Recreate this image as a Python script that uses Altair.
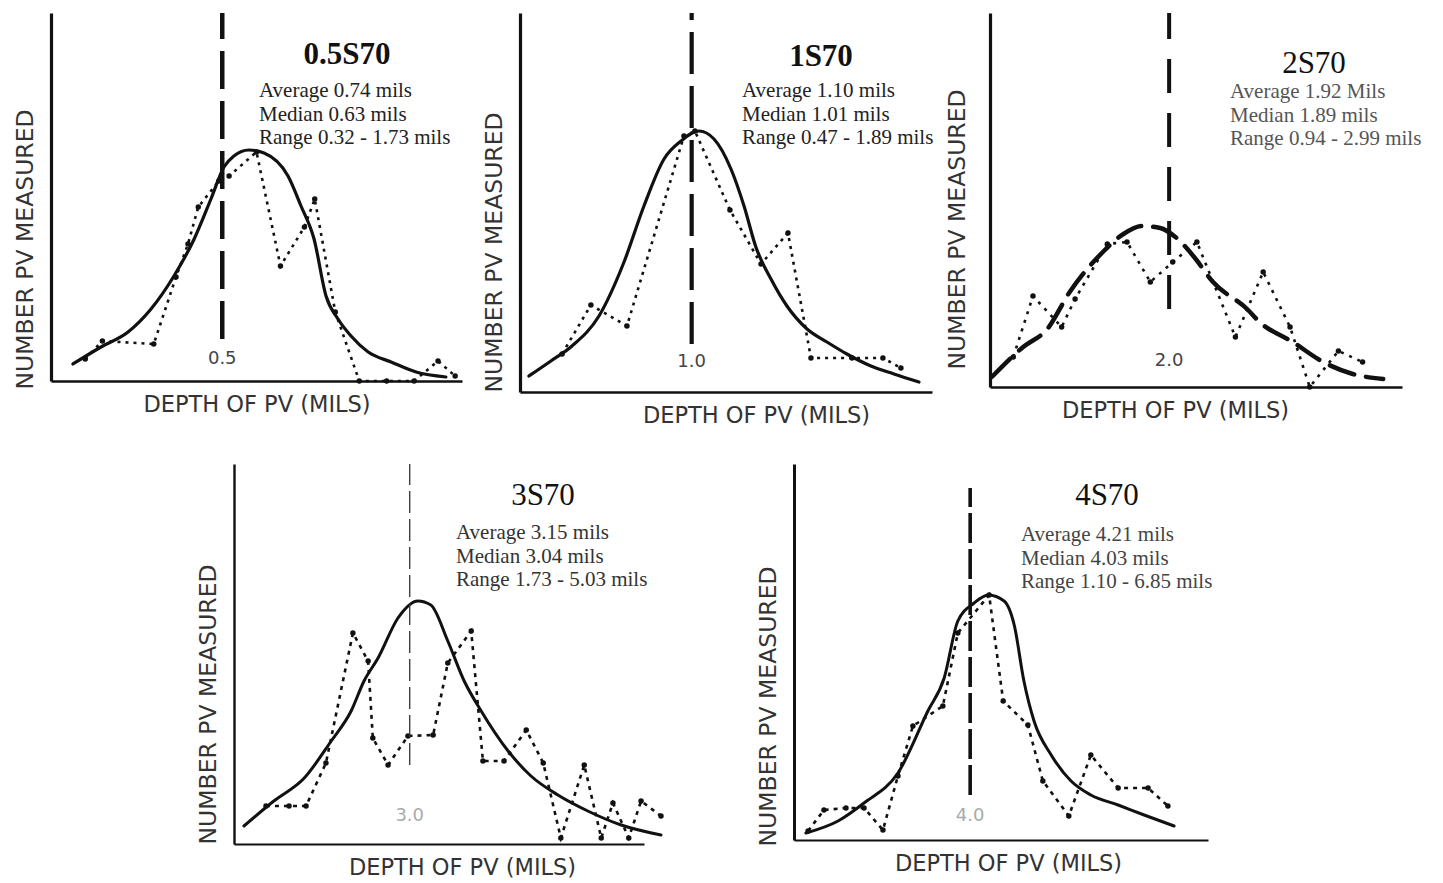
import altair as alt
import pandas as pd

# ---------------- data ----------------
PANEL_NAMES = ["0.5S70", "1S70", "2S70", "3S70", "4S70"]
CENTER_VALUES = [0.5, 1.0, 2.0, 3.0, 4.0]
CENTER_LABELS = ["0.5", "1.0", "2.0", "3.0", "4.0"]
STATS = [
    ["Average 0.74 mils", "Median 0.63 mils", "Range 0.32 - 1.73 mils"],
    ["Average 1.10 mils", "Median 1.01 mils", "Range 0.47 - 1.89 mils"],
    ["Average 1.92 Mils", "Median 1.89 mils", "Range 0.94 - 2.99 mils"],
    ["Average 3.15 mils", "Median 3.04 mils", "Range 1.73 - 5.03 mils"],
    ["Average 4.21 mils", "Median 4.03 mils", "Range 1.10 - 6.85 mils"],
]
X_MAX = [1.2, 2.4, 4.6, 7.0, 9.4]
Y_MAX = [36.8, 37.9, 37.4, 38.0, 37.6]

# panel 1 : 0.5S70
P1_FIT_X = [0.064, 0.146, 0.225, 0.292, 0.359, 0.418, 0.467, 0.505, 0.534, 0.578, 0.622,
            0.692, 0.73, 0.768, 0.803, 0.838, 0.876, 0.926, 0.993, 1.066, 1.153]
P1_FIT_Y = [1.7, 3.4, 4.9, 7.2, 10.5, 14.2, 18.2, 21.4, 22.5, 23.1, 22.8,
            20.5, 17.5, 14.2, 8.5, 6.2, 4.5, 2.9, 1.9, 0.9, 0.4]
P1_HIST_X = [0.10, 0.15, 0.30, 0.365, 0.40, 0.43, 0.49, 0.52, 0.60, 0.67, 0.74, 0.77,
             0.83, 0.90, 0.98, 1.06, 1.13, 1.18]
P1_HIST_Y = [2.2, 4.0, 3.7, 10.4, 13.7, 17.4, 20.0, 20.5, 22.9, 11.5, 15.4, 18.2,
             6.9, 0.0, 0.0, 0.0, 2.0, 0.5]

# panel 2 : 1S70
P2_FIT_X = [0.052, 0.18, 0.303, 0.46, 0.606, 0.722, 0.839, 0.938, 1.043, 1.13, 1.229,
            1.305, 1.374, 1.462, 1.555, 1.672, 1.788, 1.904, 2.044, 2.178, 2.324]
P2_FIT_Y = [1.6, 3.1, 4.6, 7.6, 13.0, 18.6, 23.3, 25.1, 26.1, 25.3, 22.3,
            18.6, 14.5, 11.3, 8.6, 6.3, 5.0, 3.8, 2.6, 1.8, 1.0]
P2_HIST_X = [0.245, 0.413, 0.623, 0.955, 1.019, 1.223, 1.404, 1.561, 1.695, 1.934, 2.114, 2.219]
P2_HIST_Y = [3.8, 8.7, 6.6, 25.6, 26.1, 18.2, 12.8, 15.9, 3.4, 3.4, 3.4, 2.4]

# panel 3 : 2S70
P3_FIT_X = [0.02, 0.37, 0.64, 0.89, 1.26, 1.49, 1.70, 1.90, 2.07, 2.27, 2.49, 2.87, 3.01,
            3.38, 3.72, 4.05, 4.39]
P3_FIT_Y = [1.0, 4.0, 5.8, 9.5, 13.5, 15.3, 16.1, 15.9, 15.0, 13.1, 10.5, 7.8, 6.5,
            4.5, 2.5, 1.3, 0.8]
P3_HIST_X = [0.26, 0.48, 0.80, 0.95, 1.31, 1.53, 1.79, 2.04, 2.31, 2.74, 3.05, 3.35,
             3.57, 3.89, 4.16]
P3_HIST_Y = [3.0, 9.1, 6.0, 8.8, 14.3, 14.5, 10.5, 12.5, 14.5, 5.0, 11.5, 6.0,
             0.0, 3.6, 2.5]

# panel 4 : 3S70
P4_FIT_X = [0.17, 0.68, 1.20, 1.66, 2.00, 2.22, 2.46, 2.80, 3.14, 3.36, 3.65, 3.93, 4.22,
            4.68, 5.07, 5.53, 6.04, 6.61, 7.29]
P4_FIT_Y = [1.8, 4.3, 6.6, 10.3, 13.3, 16.3, 18.6, 22.6, 24.3, 23.9, 20.3, 16.3, 13.3,
            9.3, 6.8, 4.9, 3.3, 1.9, 0.9]
P4_HIST_X = [0.546, 0.94, 1.23, 1.57, 2.03, 2.29, 2.37, 2.63, 2.97, 3.40, 3.65, 4.05,
             4.25, 4.61, 4.99, 5.28, 5.58, 5.98, 6.27, 6.47, 6.74, 6.95, 7.29]
P4_HIST_Y = [3.8, 3.8, 3.8, 8.1, 21.1, 18.3, 10.6, 7.9, 10.8, 10.9, 18.1, 21.3,
             8.3, 8.3, 11.4, 8.1, 0.6, 7.9, 0.6, 4.1, 0.6, 4.3, 2.8]

# panel 5 : 4S70
P5_FIT_X = [0.27, 1.0, 1.59, 2.36, 3.04, 3.41, 3.72, 4.09, 4.41, 4.77, 5.0, 5.22, 5.45,
            5.84, 6.29, 6.74, 7.36, 7.95, 8.63]
P5_FIT_Y = [0.7, 1.9, 3.7, 6.7, 12.9, 16.2, 21.9, 23.7, 24.5, 23.9, 21.5, 15.9, 11.9,
            8.5, 5.9, 4.5, 3.5, 2.5, 1.4]
P5_HIST_X = [0.32, 0.68, 1.18, 1.59, 2.02, 2.36, 2.70, 3.38, 3.72, 4.43, 4.75, 5.31,
             5.65, 6.24, 6.74, 7.36, 8.04, 8.49]
P5_HIST_Y = [0.9, 3.0, 3.2, 3.2, 1.0, 6.4, 11.4, 13.4, 20.7, 24.5, 13.9, 11.5,
             5.9, 2.4, 8.5, 5.2, 5.2, 3.4]

FIT_X = [P1_FIT_X, P2_FIT_X, P3_FIT_X, P4_FIT_X, P5_FIT_X]
FIT_Y = [P1_FIT_Y, P2_FIT_Y, P3_FIT_Y, P4_FIT_Y, P5_FIT_Y]
HIST_X = [P1_HIST_X, P2_HIST_X, P3_HIST_X, P4_HIST_X, P5_HIST_X]
HIST_Y = [P1_HIST_Y, P2_HIST_Y, P3_HIST_Y, P4_HIST_Y, P5_HIST_Y]

# ---------------- styles / layout ----------------
SANS = "DejaVu Sans"
SERIF = "Liberation Serif"
INK = "#111111"

STYLES = [
    dict(w=411, h=368, tx=0, ty=8, tp=14, yw=3.2, xw=2.6, bold=True, stats_col="#222",
         title_xy=(296, 42), stats_xy=(208, 67), rule_lo=4.2, rule_hi=36.8, rule_w=4.5,
         rule_dash=[38, 12], rule_col=INK, lab_y=2.2, lab_col="#444",
         fit_w=3.2, fit_dash=None, hist_dash=[3, 5]),
    dict(w=412, h=379, tx=30, ty=0, tp=14, yw=3.2, xw=2.6, bold=True, stats_col="#222",
         title_xy=(301, 44), stats_xy=(222, 67), rule_lo=4.8, rule_hi=37.9, rule_w=4.2,
         rule_dash=[42, 12], rule_col=INK, lab_y=3.0, lab_col="#444",
         fit_w=3.2, fit_dash=None, hist_dash=[3, 5]),
    dict(w=412, h=374, tx=-21, ty=-18, tp=21, yw=3.2, xw=2.6, bold=False, stats_col="#555",
         title_xy=(324, 51), stats_xy=(240, 68), rule_lo=7.8, rule_hi=37.4, rule_w=4.0,
         rule_dash=[34, 20], rule_col=INK, lab_y=2.6, lab_col="#444",
         fit_w=4.5, fit_dash=[26, 12], hist_dash=[3, 6]),
    dict(w=410, h=380, tx=23, ty=0, tp=14, yw=2.4, xw=2.2, bold=False, stats_col="#333",
         title_xy=(309, 32), stats_xy=(222, 58), rule_lo=7.9, rule_hi=38.0, rule_w=1.3,
         rule_dash=[22, 6], rule_col="#333", lab_y=2.8, lab_col="#aaa",
         fit_w=3.0, fit_dash=None, hist_dash=[4, 5]),
    dict(w=414, h=376, tx=7, ty=6, tp=14, yw=3.0, xw=2.2, bold=False, stats_col="#444",
         title_xy=(313, 32), stats_xy=(227, 60), rule_lo=4.5, rule_hi=35.2, rule_w=3.6,
         rule_dash=[30, 6], rule_col=INK, lab_y=2.4, lab_col="#aaa",
         fit_w=3.0, fit_dash=None, hist_dash=[4, 5]),
]


def panel(i):
    s = STYLES[i]
    w, h = s["w"], s["h"]
    xs = alt.Scale(domain=[0, X_MAX[i]], nice=False, zero=False)
    ys = alt.Scale(domain=[0, Y_MAX[i]], nice=False, zero=False)
    xaxis = alt.Axis(title="DEPTH OF PV (MILS)", labels=False, ticks=False, grid=False,
                     domainColor=INK, domainWidth=s["xw"], titleFont=SANS,
                     titleFontSize=22.5, titleFontWeight="normal", titleColor="#333",
                     titlePadding=12, titleX=w / 2 + s["tx"])
    yaxis = alt.Axis(title="NUMBER PV MEASURED", labels=False, ticks=False, grid=False,
                     domainColor=INK, domainWidth=s["yw"], titleFont=SANS,
                     titleFontSize=23.5, titleFontWeight="normal", titleColor="#333",
                     titlePadding=s["tp"], titleY=h + s["ty"], titleAlign="left")
    X = alt.X("x:Q", scale=xs, axis=xaxis)
    Y = alt.Y("y:Q", scale=ys, axis=yaxis)

    fit = pd.DataFrame({"x": FIT_X[i], "y": FIT_Y[i]})
    hist = pd.DataFrame({"x": HIST_X[i], "y": HIST_Y[i]})
    rule_df = pd.DataFrame({"x": [CENTER_VALUES[i]], "y": [s["rule_lo"]], "y2": [s["rule_hi"]]})
    lab_df = pd.DataFrame({"x": [CENTER_VALUES[i]], "y": [s["lab_y"]], "t": [CENTER_LABELS[i]]})
    title_df = pd.DataFrame({"t": [PANEL_NAMES[i]]})
    stats_df = pd.DataFrame({"t": ["\n".join(STATS[i])]})

    fit_kw = dict(color=INK, strokeWidth=s["fit_w"], interpolate="monotone", strokeCap="round")
    if s["fit_dash"]:
        fit_kw["strokeDash"] = s["fit_dash"]
    fit_layer = alt.Chart(fit).mark_line(**fit_kw).encode(x=X, y=Y)
    hist_line = alt.Chart(hist).mark_line(color=INK, strokeWidth=2.6,
                                          strokeDash=s["hist_dash"]).encode(x=X, y=Y)
    hist_pts = alt.Chart(hist).mark_circle(color=INK, size=30, opacity=1).encode(x=X, y=Y)
    rule = alt.Chart(rule_df).mark_rule(color=s["rule_col"], strokeWidth=s["rule_w"],
                                        strokeDash=s["rule_dash"]).encode(
        x=X, y=Y, y2=alt.Y2("y2:Q"))
    lab = alt.Chart(lab_df).mark_text(font=SANS, fontSize=18, color=s["lab_col"],
                                      baseline="middle", align="center").encode(
        x=X, y=Y, text="t:N")
    title = alt.Chart(title_df).mark_text(font=SERIF, fontSize=31,
                                          fontWeight="bold" if s["bold"] else "normal",
                                          color=INK, align="center", baseline="middle").encode(
        x=alt.value(s["title_xy"][0]), y=alt.value(s["title_xy"][1]), text="t:N")
    stats = alt.Chart(stats_df).mark_text(font=SERIF, fontSize=21, color=s["stats_col"],
                                          align="left", baseline="top", lineBreak="\n",
                                          lineHeight=23.5).encode(
        x=alt.value(s["stats_xy"][0]), y=alt.value(s["stats_xy"][1]), text="t:N")

    return alt.layer(fit_layer, hist_line, hist_pts, rule, lab, title, stats).properties(
        width=w, height=h)


spacer = alt.Chart(pd.DataFrame({"v": [0]})).mark_point(opacity=0).encode(
    x=alt.X("v:Q", axis=None), y=alt.Y("v:Q", axis=None)).properties(width=33, height=10)

top = alt.hconcat(panel(0), panel(1), panel(2), spacing=58, bounds="flush")
bottom = alt.hconcat(spacer, panel(3), panel(4), spacing=150, bounds="flush")

chart = alt.vconcat(top, bottom, spacing=36, bounds="full").properties(
    padding={"left": 5, "top": 2, "right": 5, "bottom": 5},
    background="white",
).configure_view(stroke=None)

chart.save("out.html", embed_options={"renderer": "svg", "actions": False})
